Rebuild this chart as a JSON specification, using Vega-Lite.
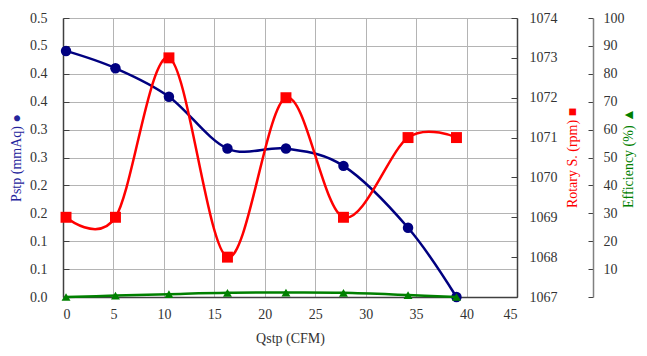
{
  "$schema": "https://vega.github.io/schema/vega-lite/v6.json",
  "width": 454,
  "height": 279,
  "autosize": {"type": "none"},
  "padding": {"left": 63, "top": 18, "right": 130, "bottom": 59},
  "background": "white",
  "config": {
    "view": {"stroke": null},
    "font": "Liberation Serif",
    "axis": {
      "labelFont": "Liberation Serif",
      "titleFont": "Liberation Serif",
      "labelFontSize": 14,
      "titleFontSize": 14,
      "titleFontWeight": "normal",
      "labelColor": "#333333",
      "gridColor": "#b4b4b4",
      "gridWidth": 1,
      "domainColor": "#404040",
      "domainWidth": 1.5,
      "tickColor": "#404040"
    }
  },
  "data": {
    "values": [
      {"q": 0.3, "pstp": 0.441, "rpm": 1069.0, "eff": 0.0},
      {"q": 5.2, "pstp": 0.410, "rpm": 1069.0, "eff": 0.5},
      {"q": 10.5, "pstp": 0.359, "rpm": 1073.0, "eff": 1.0},
      {"q": 16.3, "pstp": 0.266, "rpm": 1068.0, "eff": 1.5},
      {"q": 22.1, "pstp": 0.266, "rpm": 1072.0, "eff": 1.6},
      {"q": 27.8, "pstp": 0.235, "rpm": 1069.0, "eff": 1.5},
      {"q": 34.2, "pstp": 0.124, "rpm": 1071.0, "eff": 0.7},
      {"q": 39.0, "pstp": 0.0, "rpm": 1071.0, "eff": 0.0}
    ]
  },
  "encoding": {
    "x": {
      "field": "q",
      "type": "quantitative",
      "scale": {"domain": [0, 45], "nice": false},
      "axis": {
        "values": [0, 5, 10, 15, 20, 25, 30, 35, 40, 45],
        "title": "Qstp (CFM)",
        "titleColor": "#333333",
        "grid": true,
        "ticks": false,
        "labelPadding": 10,
        "titlePadding": 10
      }
    }
  },
  "layer": [
    {
      "encoding": {
        "y": {
          "field": "pstp",
          "type": "quantitative",
          "scale": {"domain": [0, 0.5], "nice": false},
          "axis": {
            "orient": "left",
            "values": [0, 0.05, 0.1, 0.15, 0.2, 0.25, 0.3, 0.35, 0.4, 0.45, 0.5],
            "labelExpr": "format(datum.value + 0.0001, '.1f')",
            "title": "Pstp (mmAq) ●",
            "titleColor": "#24249c",
            "titleAngle": -90,
            "grid": true,
            "tickSize": -6,
            "labelPadding": 22,
            "titlePadding": 6
          }
        }
      },
      "layer": [
        {"mark": {"type": "line", "interpolate": "cardinal", "tension": 0, "color": "#000080", "strokeWidth": 2.5}},
        {"mark": {"type": "point", "shape": "circle", "filled": true, "opacity": 1, "size": 110, "color": "#000080"}}
      ]
    },
    {
      "encoding": {
        "y": {
          "field": "rpm",
          "type": "quantitative",
          "scale": {"domain": [1067, 1074], "nice": false, "zero": false},
          "axis": {
            "orient": "right",
            "values": [1067, 1068, 1069, 1070, 1071, 1072, 1073, 1074],
            "format": "d",
            "title": "Rotary S. (rpm) ■",
            "titleColor": "#ff0000",
            "titleAngle": -90,
            "grid": false,
            "tickSize": -6,
            "labelPadding": 18,
            "titlePadding": 22
          }
        }
      },
      "layer": [
        {"mark": {"type": "line", "interpolate": "cardinal", "tension": 0, "color": "#ff0000", "strokeWidth": 2.5}},
        {"mark": {"type": "point", "shape": "square", "filled": true, "opacity": 1, "size": 120, "color": "#ff0000"}}
      ]
    },
    {
      "encoding": {
        "y": {
          "field": "eff",
          "type": "quantitative",
          "scale": {"domain": [0, 100], "nice": false},
          "axis": {
            "orient": "right",
            "offset": 76,
            "values": [0, 10, 20, 30, 40, 50, 60, 70, 80, 90, 100],
            "labelExpr": "datum.value == 0 ? '' : datum.label",
            "title": "Efficiency (%) ▲",
            "titleColor": "#008000",
            "titleAngle": -90,
            "grid": false,
            "domainColor": "#808080",
            "tickColor": "#404040",
            "tickSize": -5,
            "labelPadding": 15,
            "titlePadding": 11
          }
        }
      },
      "layer": [
        {"mark": {"type": "line", "interpolate": "cardinal", "tension": 0, "color": "#008000", "strokeWidth": 2.5}},
        {"mark": {"type": "point", "shape": "triangle-up", "filled": true, "opacity": 1, "size": 80, "color": "#008000"}}
      ]
    }
  ],
  "resolve": {"scale": {"y": "independent"}}
}
